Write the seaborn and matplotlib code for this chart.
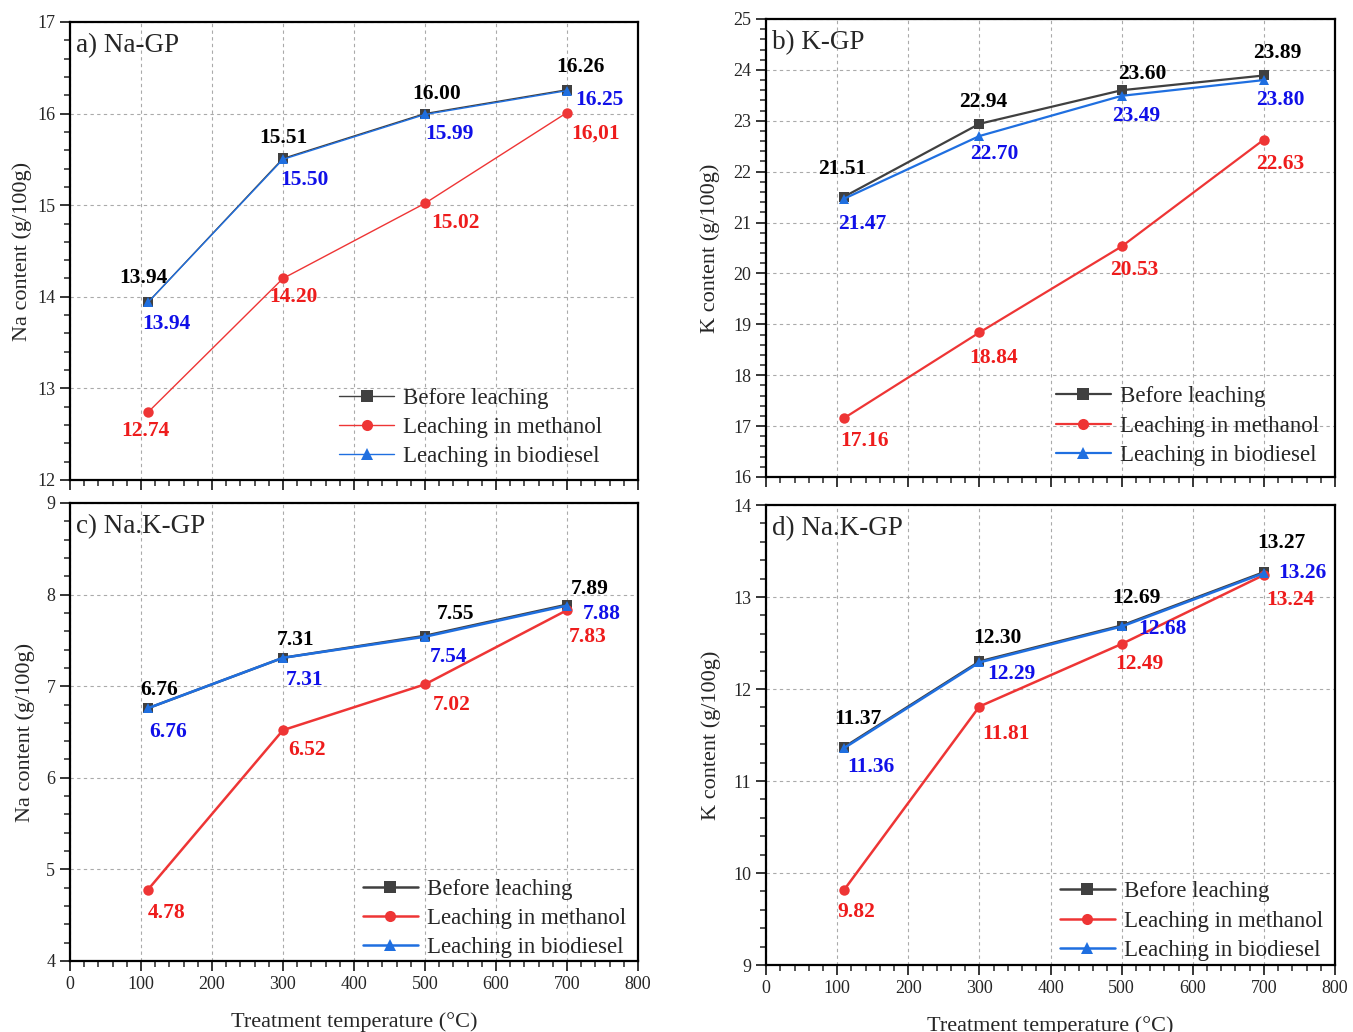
import pandas as pd
import numpy as np
import seaborn as sns
import matplotlib.pyplot as plt
from matplotlib.ticker import MultipleLocator

temps = [110, 300, 500, 700]
series_names = ["Before leaching", "Leaching in methanol", "Leaching in biodiesel"]

# a) Na-GP
na_gp_before = [13.94, 15.51, 16.00, 16.26]
na_gp_methanol = [12.74, 14.20, 15.02, 16.01]
na_gp_biodiesel = [13.94, 15.50, 15.99, 16.25]
na_gp_methanol_txt = ["12.74", "14.20", "15.02", "16,01"]

# b) K-GP
k_gp_before = [21.51, 22.94, 23.60, 23.89]
k_gp_methanol = [17.16, 18.84, 20.53, 22.63]
k_gp_biodiesel = [21.47, 22.70, 23.49, 23.80]

# c) Na.K-GP (Na)
nak_na_before = [6.76, 7.31, 7.55, 7.89]
nak_na_methanol = [4.78, 6.52, 7.02, 7.83]
nak_na_biodiesel = [6.76, 7.31, 7.54, 7.88]

# d) Na.K-GP (K)
nak_k_before = [11.37, 12.30, 12.69, 13.27]
nak_k_methanol = [9.82, 11.81, 12.49, 13.24]
nak_k_biodiesel = [11.36, 12.29, 12.68, 13.26]

plt.rcdefaults()
sns.set_style("ticks")
plt.rcParams["font.family"] = ["Liberation Serif", "DejaVu Serif"]

colors = {"Before leaching": "#404040", "Leaching in methanol": "#ee3535",
          "Leaching in biodiesel": "#1f6fe0"}
txt_colors = ["black", "#ee1c1c", "#1010e8"]
markers = {"Before leaching": "s", "Leaching in methanol": "o", "Leaching in biodiesel": "^"}

# panel setup: label offsets in pixels (before, methanol, biodiesel), legend anchor, ylabel pad
panels = [
    dict(title="a) Na-GP", ylabel="Na content (g/100g)", ylim=(12, 17), lw=1.0,
         data=[na_gp_before, na_gp_methanol, na_gp_biodiesel], mtxt=na_gp_methanol_txt,
         off=[[(-5, 24), (0, 20), (12, 20), (13, 23)],
              [(-3, -19), (10, -19), (30, -20), (29, -21)],
              [(18, -22), (21, -21), (24, -20), (32, -9)]],
         rect=[0.0517, 0.5349, 0.4198, 0.4438], leg=(0.970, -0.012), ypad=4.0),
    dict(title="b) K-GP", ylabel="K content (g/100g)", ylim=(16, 25), lw=1.6,
         data=[k_gp_before, k_gp_methanol, k_gp_biodiesel], mtxt=None,
         off=[[(-2, 28), (4, 22), (21, 16), (13, 22)],
              [(20, -23), (14, -26), (13, -24), (16, -24)],
              [(18, -25), (15, -18), (15, -20), (16, -20)]],
         rect=[0.5662, 0.5378, 0.4205, 0.4438], leg=(1.004, -0.016), ypad=9.5),
    dict(title="c) Na.K-GP", ylabel="Na content (g/100g)", ylim=(4, 9), lw=1.8,
         data=[nak_na_before, nak_na_methanol, nak_na_biodiesel], mtxt=None,
         off=[[(11, 18), (13, 18), (31, 22), (23, 16)],
              [(19, -23), (24, -20), (27, -21), (21, -27)],
              [(20, -24), (22, -22), (24, -20), (35, -8)]],
         rect=[0.0517, 0.0688, 0.4198, 0.4438], leg=(1.011, -0.034), ypad=8.3),
    dict(title="d) Na.K-GP", ylabel="K content (g/100g)", ylim=(9, 14), lw=1.8,
         data=[nak_k_before, nak_k_methanol, nak_k_biodiesel], mtxt=None,
         off=[[(14, 28), (18, 23), (15, 28), (17, 29)],
              [(12, -22), (27, -27), (18, -20), (26, -25)],
              [(27, -19), (32, -12), (41, -3), (38, 0)]],
         rect=[0.5662, 0.0649, 0.4205, 0.4457], leg=(1.011, -0.031), ypad=9.0),
]

fig = plt.figure(figsize=(13.53, 10.32), dpi=100)

for i, p in enumerate(panels):
    ax = fig.add_axes(p["rect"])
    df = pd.DataFrame({
        "Temp": temps * 3,
        "Content": p["data"][0] + p["data"][1] + p["data"][2],
        "Series": [s for s in series_names for _ in temps],
    })
    sns.lineplot(data=df, x="Temp", y="Content", hue="Series", style="Series",
                 palette=colors, markers=markers, dashes=False, markersize=7.5,
                 markeredgewidth=0, linewidth=p["lw"], ax=ax, legend=True, sort=False)

    for k, vals in enumerate(p["data"]):
        for j, (t, v) in enumerate(zip(temps, vals)):
            if k == 1 and p["mtxt"] is not None:
                s = p["mtxt"][j]
            else:
                s = f"{v:.2f}"
            ax.annotate(s, (t, v), xytext=p["off"][k][j], textcoords="offset pixels",
                        ha="center", va="center", fontsize=15.5, fontweight="bold",
                        color=txt_colors[k])

    ax.set_xlim(0, 800)
    ax.set_ylim(*p["ylim"])
    ax.xaxis.set_major_locator(MultipleLocator(100))
    ax.xaxis.set_minor_locator(MultipleLocator(20))
    ax.yaxis.set_major_locator(MultipleLocator(1))
    ax.yaxis.set_minor_locator(MultipleLocator(0.2))
    ax.tick_params(which="major", length=7, width=1.3, labelsize=13, direction="out")
    ax.tick_params(which="minor", length=4, width=1.1, direction="out")
    for sp in ax.spines.values():
        sp.set_linewidth(1.6)
        sp.set_color("black")
    ax.grid(True, which="major", color="#aaaaaa", linestyle=(0, (3, 3)), linewidth=0.8)
    ax.set_axisbelow(True)

    ax.set_ylabel(p["ylabel"], fontsize=16, labelpad=p["ypad"])
    if i >= 2:
        ax.set_xlabel("Treatment temperature (°C)", fontsize=16, labelpad=14)
    else:
        ax.set_xlabel("")
        ax.tick_params(axis="x", labelbottom=False)

    ax.text(0.01, 0.975, p["title"], transform=ax.transAxes, ha="left", va="top",
            fontsize=19.5)

    leg = ax.legend(loc="lower right", bbox_to_anchor=p["leg"], frameon=False,
                    fontsize=16.5, handlelength=2.4, labelspacing=0.36,
                    borderaxespad=0.4, handletextpad=0.4)
    for h in leg.get_lines():
        h.set_linewidth(p["lw"])
        h.set_markersize(8)

fig.savefig("out.png", dpi=100)
